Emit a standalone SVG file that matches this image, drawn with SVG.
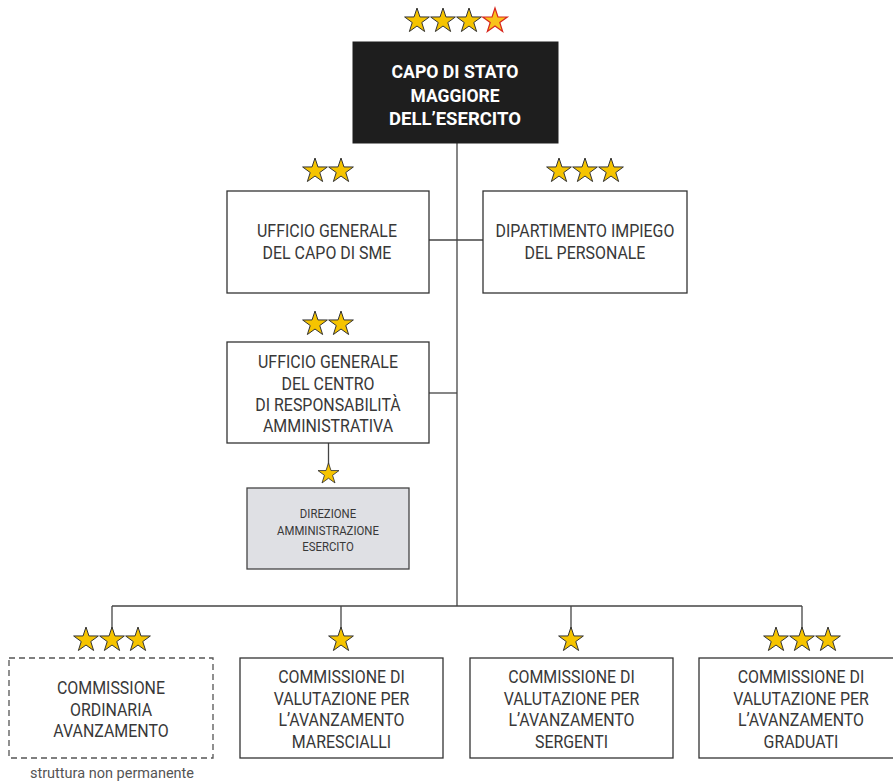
<svg xmlns="http://www.w3.org/2000/svg" xmlns:xlink="http://www.w3.org/1999/xlink" width="893" height="784" viewBox="0 0 893 784">
  <defs>
    <style>
      .box { fill: #ffffff; stroke: #333333; stroke-width: 1.3; }
      .dash { fill: #ffffff; stroke: #555555; stroke-width: 1.3; stroke-dasharray: 6 4; }
      .grey { fill: #dfe0e4; stroke: #444444; stroke-width: 1.3; }
      .head { fill: #1e1e1e; stroke: #1e1e1e; }
      .lbl { font-family: Roboto, "Liberation Sans", sans-serif; font-size: 17.5px; fill: #383838; text-anchor: middle; }
      .small { font-family: Roboto, "Liberation Sans", sans-serif; font-size: 12.5px; fill: #383838; text-anchor: middle; }
      .note { font-family: Roboto, "Liberation Sans", sans-serif; font-size: 14.5px; fill: #555555; text-anchor: middle; }
      .title { font-family: Roboto, "Liberation Sans", sans-serif; font-size: 19px; font-weight: bold; fill: #ffffff; text-anchor: middle; }
      .wire { fill: none; stroke: #444444; stroke-width: 1.3; }
      .star { fill: #f6c400; stroke: #333333; stroke-width: 1; stroke-linejoin: miter; }
      .star-red { fill: #f9c21a; stroke: #d7261e; stroke-width: 1.2; }
    </style>
    <path id="star" d="M0,-13 L2.94,-4.05 L12.36,-4.02 L4.76,1.55 L7.64,10.52 L0,5 L-7.64,10.52 L-4.76,1.55 L-12.36,-4.02 L-2.94,-4.05 Z"/>
  </defs>

  <!-- connectors -->
  <g id="connectors" class="wire">
    <line x1="457" y1="143" x2="457" y2="606"/>
    <line x1="429" y1="240" x2="483" y2="240"/>
    <line x1="429" y1="393" x2="457" y2="393"/>
    <line x1="328.5" y1="443" x2="328.5" y2="470"/>
    <line x1="112" y1="606" x2="802" y2="606"/>
    <line x1="112" y1="606" x2="112" y2="635"/>
    <line x1="341" y1="606" x2="341" y2="635"/>
    <line x1="571" y1="606" x2="571" y2="635"/>
    <line x1="802" y1="606" x2="802" y2="635"/>
  </g>

  <!-- chief of staff -->
  <g id="capo-sme">
    <use xlink:href="#star" class="star" x="417" y="21"/>
    <use xlink:href="#star" class="star" x="443" y="21"/>
    <use xlink:href="#star" class="star" x="469" y="21"/>
    <use xlink:href="#star" class="star-red" x="495" y="21"/>
    <rect class="head" x="353" y="42" width="205" height="101"/>
    <text class="title" x="455" y="78" textLength="127" lengthAdjust="spacingAndGlyphs">CAPO DI STATO</text>
    <text class="title" x="455" y="101.5" textLength="89" lengthAdjust="spacingAndGlyphs">MAGGIORE</text>
    <text class="title" x="455" y="125" textLength="132" lengthAdjust="spacingAndGlyphs">DELL’ESERCITO</text>
  </g>

  <g id="ufficio-capo-sme">
    <use xlink:href="#star" class="star" x="315" y="171"/>
    <use xlink:href="#star" class="star" x="341" y="171"/>
    <rect class="box" x="227" y="191" width="202" height="102"/>
    <g transform="translate(327 0) scale(0.91 1)">
      <text class="lbl" x="0" y="237">UFFICIO GENERALE</text>
      <text class="lbl" x="0" y="259">DEL CAPO DI SME</text>
    </g>
  </g>

  <g id="dipartimento-impiego">
    <use xlink:href="#star" class="star" x="559" y="171"/>
    <use xlink:href="#star" class="star" x="585" y="171"/>
    <use xlink:href="#star" class="star" x="611" y="171"/>
    <rect class="box" x="483" y="191" width="204" height="102"/>
    <g transform="translate(585 0) scale(0.91 1)">
      <text class="lbl" x="0" y="237">DIPARTIMENTO IMPIEGO</text>
      <text class="lbl" x="0" y="259">DEL PERSONALE</text>
    </g>
  </g>

  <g id="ufficio-cra">
    <use xlink:href="#star" class="star" x="315" y="324"/>
    <use xlink:href="#star" class="star" x="341" y="324"/>
    <rect class="box" x="227" y="342" width="202" height="101"/>
    <g transform="translate(328 0) scale(0.91 1)">
      <text class="lbl" x="0" y="368">UFFICIO GENERALE</text>
      <text class="lbl" x="0" y="390">DEL CENTRO</text>
      <text class="lbl" x="0" y="411">DI RESPONSABILITÀ</text>
      <text class="lbl" x="0" y="432">AMMINISTRATIVA</text>
    </g>
  </g>

  <g id="direzione-amministrazione">
    <use xlink:href="#star" class="star" transform="translate(328.5,474) scale(0.85)"/>
    <rect class="grey" x="247" y="488" width="162" height="81"/>
    <g transform="translate(328 0) scale(0.91 1)">
      <text class="small" x="0" y="518">DIREZIONE</text>
      <text class="small" x="0" y="535">AMMINISTRAZIONE</text>
      <text class="small" x="0" y="551">ESERCITO</text>
    </g>
  </g>

  <g id="commissione-ordinaria">
    <use xlink:href="#star" class="star" x="86" y="640"/>
    <use xlink:href="#star" class="star" x="112" y="640"/>
    <use xlink:href="#star" class="star" x="138" y="640"/>
    <rect class="dash" x="9" y="658" width="204" height="100"/>
    <g transform="translate(111 0) scale(0.91 1)">
      <text class="lbl" x="0" y="694">COMMISSIONE</text>
      <text class="lbl" x="0" y="716">ORDINARIA</text>
      <text class="lbl" x="0" y="737">AVANZAMENTO</text>
    </g>
    <text class="note" x="112" y="778">struttura non permanente</text>
  </g>

  <g id="commissione-marescialli">
    <use xlink:href="#star" class="star" x="341" y="640"/>
    <rect class="box" x="240" y="658" width="203" height="100"/>
    <g transform="translate(341.5 0) scale(0.91 1)">
      <text class="lbl" x="0" y="683">COMMISSIONE DI</text>
      <text class="lbl" x="0" y="705">VALUTAZIONE PER</text>
      <text class="lbl" x="0" y="726">L’AVANZAMENTO</text>
      <text class="lbl" x="0" y="748">MARESCIALLI</text>
    </g>
  </g>

  <g id="commissione-sergenti">
    <use xlink:href="#star" class="star" x="571" y="640"/>
    <rect class="box" x="470" y="658" width="203" height="100"/>
    <g transform="translate(571.5 0) scale(0.91 1)">
      <text class="lbl" x="0" y="683">COMMISSIONE DI</text>
      <text class="lbl" x="0" y="705">VALUTAZIONE PER</text>
      <text class="lbl" x="0" y="726">L’AVANZAMENTO</text>
      <text class="lbl" x="0" y="748">SERGENTI</text>
    </g>
  </g>

  <g id="commissione-graduati">
    <use xlink:href="#star" class="star" x="776" y="640"/>
    <use xlink:href="#star" class="star" x="802" y="640"/>
    <use xlink:href="#star" class="star" x="828" y="640"/>
    <rect class="box" x="699" y="658" width="204" height="100"/>
    <g transform="translate(801 0) scale(0.91 1)">
      <text class="lbl" x="0" y="683">COMMISSIONE DI</text>
      <text class="lbl" x="0" y="705">VALUTAZIONE PER</text>
      <text class="lbl" x="0" y="726">L’AVANZAMENTO</text>
      <text class="lbl" x="0" y="748">GRADUATI</text>
    </g>
  </g>
</svg>
